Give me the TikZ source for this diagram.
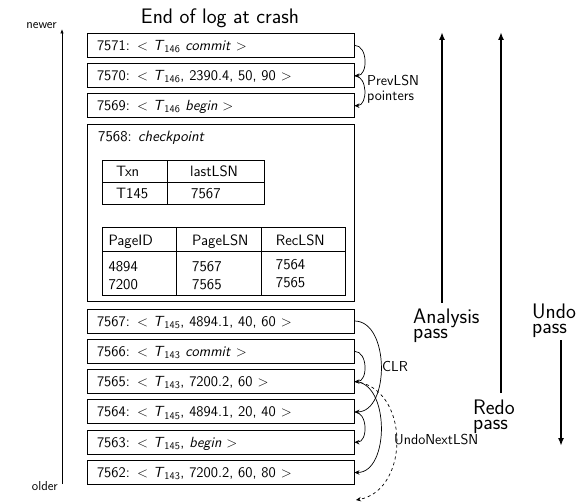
\documentclass[tikz,border=0pt]{standalone}
\usepackage{fontspec}
\usetikzlibrary{arrows.meta}
\newcommand{\Tx}[1]{\textit{T}\textsubscript{#1}}
\begin{document}
\begin{tikzpicture}[x=1pt,y=-1pt,
  logrec/.style={draw, line width=0.9pt, minimum width=267pt, minimum height=24pt,
    text width=247pt, inner xsep=10pt, inner ysep=0pt, align=left,
    text height=10pt, text depth=0pt, font=\sffamily\fontsize{14.7}{16}\selectfont},
  ptr/.style={-{Stealth[length=5pt,width=4.5pt]}, line width=0.7pt},
  pass/.style={-{Latex[length=8pt,width=6pt]}, line width=1.6pt},
  lbl/.style={font=\sffamily\fontsize{14.4}{15}\selectfont, inner sep=0pt, align=left},
  big/.style={font=\sffamily\fontsize{21}{15}\selectfont, inner sep=0pt, align=left},
  cell/.style={font=\sffamily\fontsize{15}{16}\selectfont, inner sep=0pt, anchor=base west},
  grid/.style={line width=0.9pt}]
\useasboundingbox (0,0) rectangle (583,502);

% title
\node[font=\sffamily\fontsize{21}{24}\selectfont, inner sep=0pt] (title) at (220,18) {End of log at crash};

% time axis
\coordinate (axbot) at (62,484);
\coordinate (axtop) at (62,29);
\draw[line width=0.7pt, -{Latex[length=4.5pt,width=3.5pt]}] (axbot) -- (axtop);
\node[font=\sffamily\fontsize{13}{14}\selectfont, inner sep=0pt, anchor=east] (newer) at (57,26) {newer};
\node[font=\sffamily\fontsize{13}{14}\selectfont, inner sep=0pt, anchor=east] (older) at (58,486) {older};

% log records
\node[logrec] (b7571) at (220.5,45.3) {7571: $<$ \Tx{146} \textit{commit} $>$};
\node[logrec] (b7570) at (220.5,75.7) {7570: $<$ \Tx{146}, 2390.4, 50, 90 $>$};
\node[logrec] (b7569) at (220.5,105.7) {7569: $<$ \Tx{146} \textit{begin} $>$};
\node[draw, line width=0.9pt, minimum width=267pt, minimum height=177pt] (b7568) at (220.5,212.5) {};
\node[logrec] (b7567) at (220.5,321) {7567: $<$ \Tx{145}, 4894.1, 40, 60 $>$};
\node[logrec] (b7566) at (220.5,351.3) {7566: $<$ \Tx{143} \textit{commit} $>$};
\node[logrec] (b7565) at (220.5,381.6) {7565: $<$ \Tx{143}, 7200.2, 60 $>$};
\node[logrec] (b7564) at (220.5,411.9) {7564: $<$ \Tx{145}, 4894.1, 20, 40 $>$};
\node[logrec] (b7563) at (220.5,442.2) {7563: $<$ \Tx{145}, \textit{begin} $>$};
\node[logrec] (b7562) at (220.5,472.5) {7562: $<$ \Tx{143}, 7200.2, 60, 80 $>$};

% checkpoint contents
\node[cell] (ck) at (98,141.6) {7568: \textit{checkpoint}};
\draw[grid] (102.7,160.7) rectangle (264.3,204);
\draw[grid] (102.7,182.3) -- (264.3,182.3);
\draw[grid] (167.7,160.7) -- (167.7,204);
\node[cell] (t1h1) at (116,176.6) {Txn};
\node[cell] (t1h2) at (190,176.6) {lastLSN};
\node[cell] (t1r1) at (116,198.2) {T145};
\node[cell] (t1r2) at (191,198.2) {7567};

\draw[grid] (102.7,227.7) rectangle (345.7,295);
\draw[grid] (102.7,251) -- (345.7,251);
\draw[grid] (176,227.7) -- (176,295);
\draw[grid] (261.7,227.7) -- (261.7,295);
\node[cell] (t2h1) at (108.3,245.2) {PageID};
\node[cell] (t2h2) at (192,245.2) {PageLSN};
\node[cell] (t2h3) at (275.7,245.2) {RecLSN};
\node[cell] (t2a1) at (108.3,271.2) {4894};
\node[cell] (t2a2) at (192,271.7) {7567};
\node[cell] (t2a3) at (275.7,269.2) {7564};
\node[cell] (t2b1) at (108.3,289.2) {7200};
\node[cell] (t2b2) at (192,289.2) {7565};
\node[cell] (t2b3) at (275.7,287.8) {7565};

% PrevLSN pointers
\draw[ptr] (b7571.east) to[out=0,in=0,looseness=1.15] (b7570.east);
\draw[ptr] (b7570.east) to[out=0,in=0,looseness=1.15] (b7569.east);
\node[lbl, anchor=west] (prev) at (367,89.5) {PrevLSN\\pointers};

\draw[ptr] (b7567.east) to[out=0,in=0] (b7564.east);
\draw[ptr] (b7566.east) to[out=0,in=0,looseness=1.15] (b7565.east);
\draw[ptr] (b7565.east) to[out=0,in=0] (b7562.east);
\draw[ptr] (b7564.east) to[out=0,in=0,looseness=1.15] (b7563.east);
\coordinate (beyond) at (356,500);
\draw[ptr, dashed] (b7565.east) to[out=-5,in=10,looseness=1.2] (beyond);
\node[lbl, anchor=west] (clr) at (382,367) {CLR};
\node[lbl, anchor=west] (unl) at (394,440) {UndoNextLSN};

% recovery passes
\node[big, anchor=north west] (ana) at (413,309) {Analysis\\pass};
\node[big, anchor=north west] (redo) at (473,400) {Redo\\pass};
\node[big, anchor=north west] (undo) at (532,304) {Undo\\pass};
\coordinate (anaTop) at (442,32);
\coordinate (anaBot) at (442,303);
\coordinate (redoTop) at (501,32);
\coordinate (redoBot) at (501,393);
\coordinate (undoTop) at (561,340);
\coordinate (undoBot) at (561,446);
\draw[pass] (anaBot) -- (anaTop);
\draw[pass] (redoBot) -- (redoTop);
\draw[pass] (undoTop) -- (undoBot);
\end{tikzpicture}
\end{document}
